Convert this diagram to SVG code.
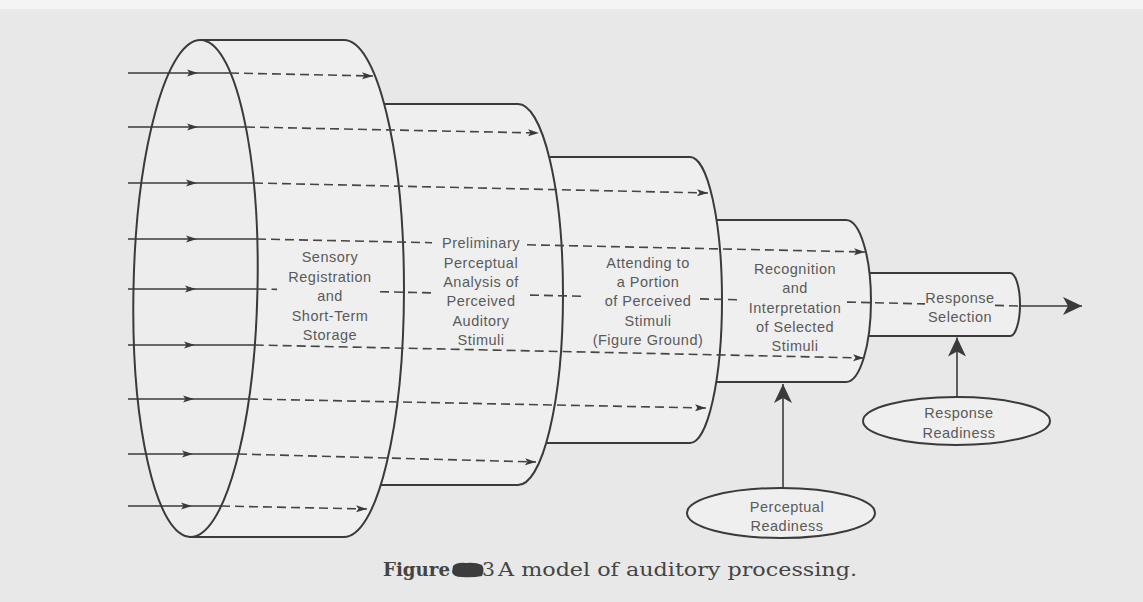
<svg xmlns="http://www.w3.org/2000/svg" width="1143" height="602" viewBox="0 0 1143 602">
<defs>
<style>
.bg{fill:#e8e8e8}
.stage{fill:#efefef;stroke:#3a3a3a;stroke-width:2}
.front{fill:#ededed;stroke:#3a3a3a;stroke-width:2}
.solid{fill:none;stroke:#3a3a3a;stroke-width:1.6}
.dash{fill:none;stroke:#454545;stroke-width:1.6;stroke-dasharray:9 5}
.lbl{font-family:"Liberation Sans",Arial,sans-serif;font-size:14.5px;fill:#5a5a5a;text-anchor:middle;letter-spacing:0.5px}
.oval{fill:#efefef;stroke:#3a3a3a;stroke-width:2}
.cap{font-family:"DejaVu Serif","Liberation Serif",serif;font-size:18.5px;fill:#444444}
</style>
<marker id="sm" viewBox="0 0 12 8" refX="11" refY="4" markerWidth="12" markerHeight="8" markerUnits="userSpaceOnUse" orient="auto"><path d="M0,0.5 L11,4 L0,7.5 L2.5,4 Z" fill="#3a3a3a"/></marker>
<marker id="big" viewBox="0 0 20 18" refX="19" refY="9" markerWidth="20" markerHeight="18" markerUnits="userSpaceOnUse" orient="auto"><path d="M0,0 L19,9 L0,18 L5,9 Z" fill="#3a3a3a"/></marker>
</defs>
<rect class="bg" x="0" y="0" width="1143" height="602"/>
<rect x="0" y="0" width="1143" height="9" fill="#f4f4f4"/>

<g id="stage5">
<path class="stage" d="M855,273 L1010,273 A10,31.5 0 0 1 1010,336 L855,336 Z"/>
<text class="lbl" x="960" y="303">Response</text>
<text class="lbl" x="960" y="322">Selection</text>
</g>
<g id="stage4">
<path class="stage" d="M700,220 L846,220 A25,81 0 0 1 846,382 L700,382 Z"/>
<text class="lbl" x="795" y="274">Recognition</text>
<text class="lbl" x="795" y="293">and</text>
<text class="lbl" x="795" y="313">Interpretation</text>
<text class="lbl" x="795" y="332">of Selected</text>
<text class="lbl" x="795" y="351">Stimuli</text>
</g>
<g id="stage3">
<path class="stage" d="M530,157 L690,157 A32,143 0 0 1 690,443 L530,443 Z"/>
<text class="lbl" x="648" y="267.5">Attending to</text>
<text class="lbl" x="648" y="287">a Portion</text>
<text class="lbl" x="648" y="306">of Perceived</text>
<text class="lbl" x="648" y="325.5">Stimuli</text>
<text class="lbl" x="648" y="345">(Figure Ground)</text>
</g>
<g id="stage2">
<path class="stage" d="M360,104 L518,104 A45,190.5 0 0 1 518,485 L360,485 Z"/>
<text class="lbl" x="481" y="248">Preliminary</text>
<text class="lbl" x="481" y="267.5">Perceptual</text>
<text class="lbl" x="481" y="287">Analysis of</text>
<text class="lbl" x="481" y="306">Perceived</text>
<text class="lbl" x="481" y="325.5">Auditory</text>
<text class="lbl" x="481" y="345">Stimuli</text>
</g>
<g id="stage1">
<path class="stage" d="M200.7,40 L344,40 A60,248.5 0 0 1 344,537 L190.3,537 Z"/>
<ellipse class="front" cx="195.5" cy="288.5" rx="62" ry="248.5" transform="rotate(1.2 195.5 288.5)"/>
<text class="lbl" x="330" y="262">Sensory</text>
<text class="lbl" x="330" y="281.5">Registration</text>
<text class="lbl" x="330" y="301">and</text>
<text class="lbl" x="330" y="320.5">Short-Term</text>
<text class="lbl" x="330" y="340">Storage</text>
</g>
<g id="response-readiness">
<ellipse class="oval" cx="956.5" cy="421" rx="93.5" ry="24"/>
<text class="lbl" x="959" y="418">Response</text>
<text class="lbl" x="959" y="438">Readiness</text>
</g>
<g id="perceptual-readiness">
<ellipse class="oval" cx="781" cy="513" rx="94" ry="25"/>
<text class="lbl" x="787" y="512">Perceptual</text>
<text class="lbl" x="787" y="531">Readiness</text>
</g>

<g id="connectors">
<path class="solid" d="M128,73 L198,73 L230,73" marker-mid="url(#sm)"/>
<path class="solid" d="M128,127 L198,127 L246,127" marker-mid="url(#sm)"/>
<path class="solid" d="M128,183 L197,183 L254,183" marker-mid="url(#sm)"/>
<path class="solid" d="M128,239 L197,239 L257,239" marker-mid="url(#sm)"/>
<path class="solid" d="M128,289 L196,289 L257.5,289" marker-mid="url(#sm)"/>
<path class="solid" d="M128,345 L195,345 L254.7,345" marker-mid="url(#sm)"/>
<path class="solid" d="M128,399 L194,399 L249,399" marker-mid="url(#sm)"/>
<path class="solid" d="M128,454 L193,454 L238,454" marker-mid="url(#sm)"/>
<path class="solid" d="M128,506 L192,506 L221,506" marker-mid="url(#sm)"/>

<path class="dash" d="M230,73 L373,76" marker-end="url(#sm)"/>
<path class="dash" d="M246,127 L539,133" marker-end="url(#sm)"/>
<path class="dash" d="M254,183 L708,193" marker-end="url(#sm)"/>
<path class="dash" d="M257,239 L432,242.7"/>
<path class="dash" d="M527,244.8 L865,252" marker-end="url(#sm)"/>
<path class="dash" d="M257.5,289 L277,289.4"/>
<path class="dash" d="M380,291.7 L432,292.9"/>
<path class="dash" d="M530,295.1 L582,296.2"/>
<path class="dash" d="M700,298.9 L742,299.8"/>
<path class="dash" d="M847,302.1 L925,303.9"/>
<path class="dash" d="M995,305.4 L1020,306"/>
<path class="solid" d="M1020,306 L1082,306" marker-end="url(#big)"/>
<path class="dash" d="M254.7,345 L864,358" marker-end="url(#sm)"/>
<path class="dash" d="M249,399 L706,408" marker-end="url(#sm)"/>
<path class="dash" d="M238,454 L536,462" marker-end="url(#sm)"/>
<path class="dash" d="M221,506 L367,509" marker-end="url(#sm)"/>

<path class="solid" d="M957,397 L957,337.5" marker-end="url(#big)"/>
<path class="solid" d="M783,488 L783,384" marker-end="url(#big)"/>
</g>

<g id="caption">
<text class="cap" x="383" y="576" font-weight="bold" fill="#333333" textLength="67" lengthAdjust="spacingAndGlyphs">Figure</text>
<path d="M453,566 Q457,562 466,563 Q476,562 482,565 Q485,570 482,576 Q472,578 462,577 Q453,577 452,572 Z" fill="#3c3c3c"/>
<text class="cap" x="482" y="576" textLength="13" lengthAdjust="spacingAndGlyphs">3</text>
<text class="cap" x="498" y="576" textLength="359" lengthAdjust="spacingAndGlyphs">A model of auditory processing.</text>
</g>
</svg>
